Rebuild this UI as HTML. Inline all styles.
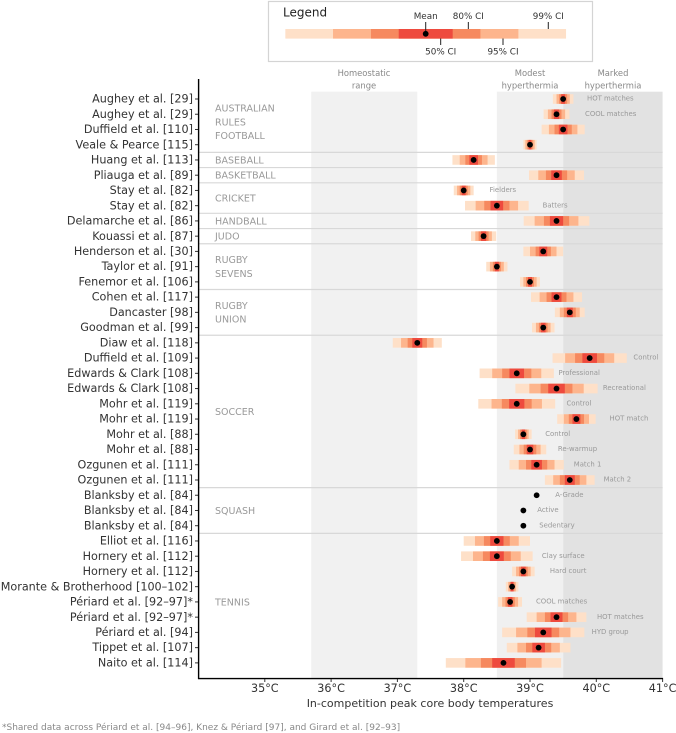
<!DOCTYPE html>
<html lang="en">
<head>
<meta charset="utf-8">
<title>In-competition peak core body temperatures</title>
<style>
html,body{margin:0;padding:0;background:#fff;width:676px;height:733px;overflow:hidden}
svg{display:block;font-family:"DejaVu Sans","Liberation Sans",sans-serif}
</style>
</head>
<body>
<svg id="chart" width="676" height="733" viewBox="0 0 676 733" xmlns="http://www.w3.org/2000/svg">
  <g id="shades"></g>
  <g id="seps"></g>
  <g id="bands"></g>
  <g id="labels"></g>
  <g id="groups"></g>
  <g id="notes"></g>
  <g id="xaxis"></g>
  <g id="legend">
    <rect x="268.5" y="1.5" width="324" height="60" fill="#fff" stroke="#d4d4d4" stroke-width="1.2"/>
    <text x="283" y="16.5" font-size="12" fill="#222">Legend</text>
  </g>
  <text font-size="8.4" fill="#888" text-anchor="middle"><tspan x="364" y="76">Homeostatic</tspan><tspan x="364" y="88.5">range</tspan></text>
  <text font-size="8.4" fill="#888" text-anchor="middle"><tspan x="530" y="76">Modest</tspan><tspan x="530" y="88.5">hyperthermia</tspan></text>
  <text font-size="8.4" fill="#888" text-anchor="middle"><tspan x="613" y="76">Marked</tspan><tspan x="613" y="88.5">hyperthermia</tspan></text>
  <text x="430" y="707" font-size="11" fill="#333" text-anchor="middle">In-competition peak core body temperatures</text>
  <text x="2" y="730" font-size="9" fill="#888">*Shared data across Périard et al. [94–96], Knez &amp; Périard [97], and Girard et al. [92–93]</text>
</svg>
<script>
const studies = ["Aughey et al. [29]","Aughey et al. [29]","Duffield et al. [110]","Veale & Pearce [115]","Huang et al. [113]","Pliauga et al. [89]","Stay et al. [82]","Stay et al. [82]","Delamarche et al. [86]","Kouassi et al. [87]","Henderson et al. [30]","Taylor et al. [91]","Fenemor et al. [106]","Cohen et al. [117]","Dancaster [98]","Goodman et al. [99]","Diaw et al. [118]","Duffield et al. [109]","Edwards & Clark [108]","Edwards & Clark [108]","Mohr et al. [119]","Mohr et al. [119]","Mohr et al. [88]","Mohr et al. [88]","Ozgunen et al. [111]","Ozgunen et al. [111]","Blanksby et al. [84]","Blanksby et al. [84]","Blanksby et al. [84]","Elliot et al. [116]","Hornery et al. [112]","Hornery et al. [112]","Morante & Brotherhood [100–102]","Périard et al. [92–97]*","Périard et al. [92–97]*","Périard et al. [94]","Tippet et al. [107]","Naito et al. [114]"];
const means = [39.5,39.4,39.5,39.0,38.15,39.4,38.0,38.5,39.4,38.3,39.2,38.5,39.0,39.4,39.6,39.2,37.3,39.9,38.8,39.4,38.8,39.7,38.9,39.0,39.1,39.6,39.1,38.9,38.9,38.5,38.5,38.9,38.73,38.7,39.4,39.2,39.13,38.6];
const ci99 = [.155,.195,.325,.10,.32,.415,.15,.48,.495,.19,.30,.16,.15,.385,.225,.17,.37,.56,.56,.62,.58,.29,.125,.245,.41,.375,null,null,null,.50,.54,.17,.095,.18,.45,.62,.48,.87];
const ci95 = [.10,.13,.215,.07,.21,.275,.10,.32,.33,.125,.20,.105,.10,.255,.15,.11,.245,.37,.37,.41,.38,.19,.08,.16,.27,.25,null,null,null,.33,.36,.11,.06,.12,.30,.41,.32,.575];
const ci80 = [.06,.075,.13,.04,.125,.16,.06,.19,.19,.075,.115,.06,.06,.15,.09,.065,.145,.22,.22,.24,.225,.115,.05,.095,.16,.15,null,null,null,.195,.21,.065,.035,.07,.175,.24,.19,.34];
const ci50 = [.03,.04,.065,.02,.065,.08,.03,.095,.10,.04,.06,.03,.03,.075,.045,.035,.075,.11,.11,.125,.115,.06,.025,.05,.08,.075,null,null,null,.10,.105,.035,.02,.035,.09,.125,.095,.17];
const noteRows = [0,1,6,7,17,18,19,20,21,22,23,24,25,26,27,28,30,31,33,34,35];
const noteTexts = ["HOT matches","COOL matches","Fielders","Batters","Control","Professional","Recreational","Control","HOT match","Control","Re-warmup","Match 1","Match 2","A-Grade","Active","Sedentary","Clay surface","Hard court","COOL matches","HOT matches","HYD group"];
const noteTemps = [39.86,39.83,38.39,39.19,40.56,39.43,40.10,39.55,40.20,39.23,39.42,39.66,40.11,39.38,39.11,39.14,39.18,39.30,39.09,40.01,39.93];
const groupNames = [["AUSTRALIAN","RULES","FOOTBALL"],["BASEBALL"],["BASKETBALL"],["CRICKET"],["HANDBALL"],["JUDO"],["RUGBY","SEVENS"],["RUGBY","UNION"],["SOCCER"],["SQUASH"],["TENNIS"]];
const groupFirstRow = [0,4,5,6,8,9,10,13,16,26,29];
const groupLastRow = [3,4,5,7,8,9,12,15,25,28,37];
const xTicks = [35,36,37,38,39,40,41];
const zoneStarts = [35.7,38.5,39.5];
const zoneEnds = [37.3,39.5,41];
const zoneFills = ["#f1f1f1","#f0f0f0","#e2e2e2"];
const bandFills = ["#fee0c8","#fdb58d","#f6895f","#ee4a3e"];
const legendMean = 37;
const legendCi = [2.117, 1.398, 0.825, 0.407];
const legendLabels = ["Mean","80% CI","99% CI","50% CI","95% CI"];
const legendPointerOffsets = [0, 0.643, 1.849, 0.226, 1.166];
const legendLabelAbove = [true, true, true, false, false];

const NS = "http://www.w3.org/2000/svg";
const x = t => 530 + (t - 39) * 66.3;
const y = i => 99 + i * 15.24;
const legendX = t => 425.7 + (t - legendMean) * 66.3;
const mk = (parent, tag, props, text) => {
  const el = document.createElementNS(NS, tag);
  for (const k in props) el.setAttribute(k, props[k]);
  if (text !== undefined) el.textContent = text;
  document.getElementById(parent).appendChild(el);
  return el;
};

zoneStarts.forEach((s, i) => {
  const el = mk("shades", "rect", {x: x(s), y: 91.7, width: x(zoneEnds[i]) - x(s), height: 678.5 - 91.7, fill: zoneFills[i]});
  
  
});

groupNames.forEach((lines, g) => {
  const cy = (y(groupFirstRow[g]) + y(groupLastRow[g])) / 2;
  lines.forEach((line, j) => {
    const el = mk("groups", "text", {x: 215, y: cy + (j - (lines.length - 1) / 2) * 13.6 + 3.4, "font-size": 9.5, fill: "#999"}, line);
    
    
  });
  if (g < groupNames.length - 1) {
    const sy = (y(groupLastRow[g]) + y(groupLastRow[g] + 1)) / 2;
    const sep = mk("seps", "line", {x1: 198, x2: x(41), y1: sy, y2: sy, stroke: "#d8d8d8", "stroke-width": 1.2});
    
    
  }
});

studies.forEach((name, i) => {
  const cy = y(i), m = means[i];
  [ci99, ci95, ci80, ci50].forEach((ci, level) => {
    if (ci[i] === null) return;
    const band = mk("bands", "rect", {x: x(m - ci[i]), y: cy - 4.8, width: x(m + ci[i]) - x(m - ci[i]), height: 9.6, fill: bandFills[level]});
    
    
  });
  const dot = mk("bands", "circle", {cx: x(m), cy: cy, r: 2.9, fill: "#000"});
  
  
  const label = mk("labels", "text", {x: 193, y: cy + 3.6, "font-size": 11.2, fill: "#333", "text-anchor": "end"}, name);
  
  
  const tick = mk("labels", "line", {x1: 195, x2: 198, y1: cy, y2: cy, stroke: "#333", "stroke-width": 1});
  
  
});

noteRows.forEach((row, i) => {
  const el = mk("notes", "text", {x: x(noteTemps[i]), y: y(row) + 1.6, "font-size": 6.9, fill: "#999"}, noteTexts[i]);
  
  
});

const yAxis = mk("xaxis", "line", {x1: 198.6, x2: 198.6, y1: 79, y2: 679, stroke: "#000", "stroke-width": 1.4});


const xAxis = mk("xaxis", "line", {x1: 198, x2: x(41) + 0.5, y1: 678.6, y2: 678.6, stroke: "#000", "stroke-width": 1.4});


xTicks.forEach(t => {
  const tk = mk("xaxis", "line", {x1: x(t), x2: x(t), y1: 679, y2: 682, stroke: "#333", "stroke-width": 1});
  
  
  const lb = mk("xaxis", "text", {x: x(t), y: 692, "font-size": 11.2, fill: "#333", "text-anchor": "middle"}, t + "°C");
  
  
});

legendCi.forEach((h, level) => {
  const r = mk("legend", "rect", {x: legendX(legendMean - h), y: 29, width: legendX(legendMean + h) - legendX(legendMean - h), height: 9.6, fill: bandFills[level]});
  
  
});
legendLabels.forEach((txt, i) => {
  const lx = legendX(legendMean + legendPointerOffsets[i]);
  const above = legendLabelAbove[i];
  const ln = mk("legend", "line", {x1: lx, x2: lx, y1: above ? 22 : 38.5, y2: above ? (i === 0 ? 32 : 29) : 45, stroke: "#222", "stroke-width": 1});
  
  
  const tx = mk("legend", "text", {x: lx, y: above ? 19 : 54.5, "font-size": 8.8, fill: "#333", "text-anchor": "middle"}, txt);
  
  
});
const legendDot = mk("legend", "circle", {cx: legendX(legendMean), cy: 33.8, r: 2.9, fill: "#000"});


</script>
</body>
</html>
